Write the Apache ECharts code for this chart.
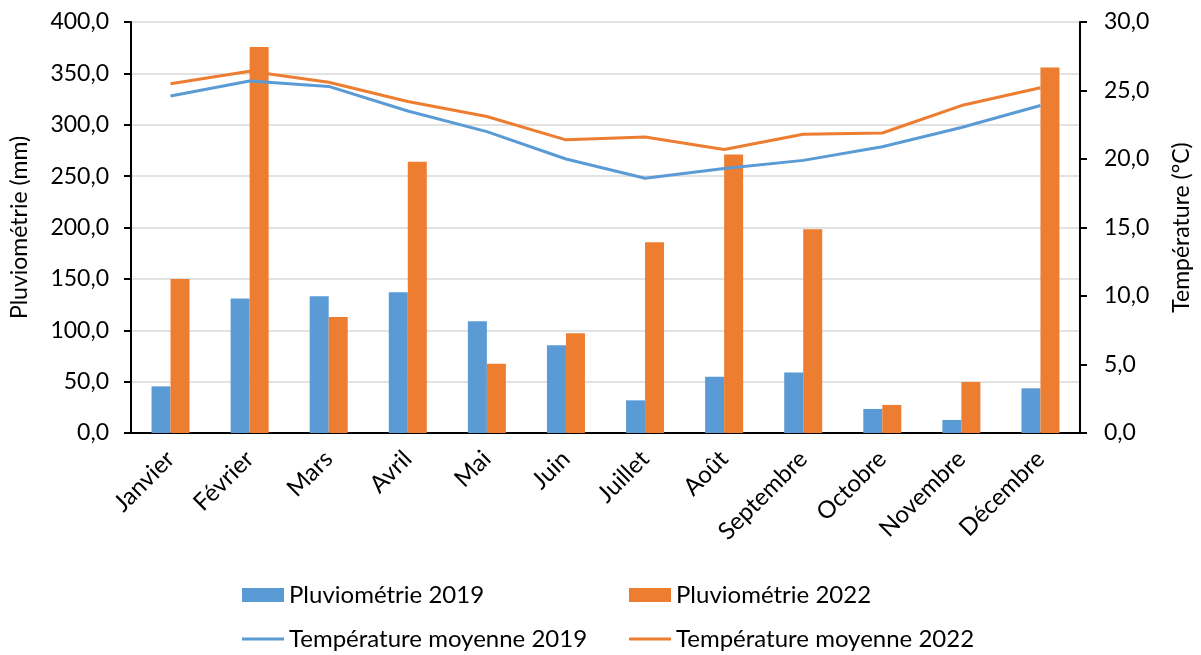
<!DOCTYPE html>
<html>
<head>
<meta charset="utf-8">
<script src="https://cdn.jsdelivr.net/npm/echarts@6/dist/echarts.min.js"></script>
<style>
  html, body { margin: 0; padding: 0; background: #fff; }
  #main { width: 1201px; height: 655px; }
</style>
</head>
<body>
<div id="main"></div>
<script>
// données
const mois = ['Janvier', 'Février', 'Mars', 'Avril', 'Mai', 'Juin', 'Juillet', 'Août', 'Septembre', 'Octobre', 'Novembre', 'Décembre']
const pluvio2019 = [45.4, 130.8, 133.0, 137.0, 108.7, 85.3, 31.8, 54.8, 59.0, 23.4, 12.7, 43.5]
const pluvio2022 = [150.0, 375.6, 113.0, 264.0, 67.5, 97.0, 185.7, 271.0, 198.4, 27.3, 49.7, 355.6]
const temp2019 = [24.6, 25.7, 25.3, 23.5, 22.0, 20.0, 18.6, 19.3, 19.9, 20.9, 22.3, 23.9]
const temp2022 = [25.5, 26.4, 25.6, 24.2, 23.1, 21.4, 21.6, 20.7, 21.8, 21.9, 23.9, 25.2]

const bleu = '#5B9BD5'
const orange = '#ED7D31'
const police = 'Lato, "Open Sans", sans-serif'
const virgule = v => v.toFixed(1).replace('.', ',')

// une légende par entrée, placée à la main
const legende = (nom, left, top, ligne) => ({
  left, top,
  itemWidth: 42, itemHeight: ligne ? 3 : 14, itemGap: 5,
  icon: 'rect',
  textStyle: { fontSize: 24, fontFamily: police, color: '#000', padding: [0, 0, 0, 0] },
  data: [nom]
})

const myChart = echarts.init(document.getElementById('main'))
myChart.setOption({
  animation: false,
  textStyle: { fontFamily: police, color: '#000' },
  grid: { left: 128, right: 118, top: 22, bottom: 222 },
  legend: [
    legende('Pluviométrie 2019', 237, 578, false),
    legende('Pluviométrie 2022', 624, 578, false),
    legende('Température moyenne 2019', 237, 622, true),
    legende('Température moyenne 2022', 624, 622, true)
  ],
  xAxis: {
    type: 'category',
    data: mois,
    axisLine: { lineStyle: { color: '#000', width: 2 } },
    axisTick: { show: false },
    axisLabel: { rotate: 45, fontSize: 24, color: '#000', margin: 22, interval: 0 }
  },
  yAxis: [
    {
      type: 'value', min: 0, max: 400, interval: 50,
      name: 'Pluviométrie (mm)', nameLocation: 'middle', nameGap: 100,
      nameTextStyle: { fontSize: 23, color: '#000' },
      axisLine: { show: true, lineStyle: { color: '#000', width: 2 } },
      axisTick: { show: true, length: 7, lineStyle: { color: '#000', width: 2 } },
      axisLabel: { fontSize: 23, color: '#000', formatter: virgule, margin: 22 },
      splitLine: { lineStyle: { color: '#D9D9D9', width: 1.5 } }
    },
    {
      type: 'value', min: 0, max: 30, interval: 5,
      name: 'Température (°C)', nameLocation: 'middle', nameGap: 90,
      nameTextStyle: { fontSize: 23, color: '#000' },
      axisLine: { show: true, lineStyle: { color: '#000', width: 2 } },
      axisTick: { show: true, length: 7, lineStyle: { color: '#000', width: 2 } },
      axisLabel: { fontSize: 23, color: '#000', formatter: virgule, margin: 24 },
      splitLine: { show: false }
    }
  ],
  series: [
    {
      name: 'Pluviométrie 2019', type: 'bar', data: pluvio2019,
      barWidth: 19, barGap: '0%', itemStyle: { color: bleu }
    },
    {
      name: 'Pluviométrie 2022', type: 'bar', data: pluvio2022,
      barWidth: 19, barGap: '0%', itemStyle: { color: orange }
    },
    {
      name: 'Température moyenne 2019', type: 'line', yAxisIndex: 1, data: temp2019,
      symbol: 'none', lineStyle: { color: bleu, width: 3 }, itemStyle: { color: bleu }
    },
    {
      name: 'Température moyenne 2022', type: 'line', yAxisIndex: 1, data: temp2022,
      symbol: 'none', lineStyle: { color: orange, width: 3 }, itemStyle: { color: orange }
    }
  ]
})
</script>
</body>
</html>
